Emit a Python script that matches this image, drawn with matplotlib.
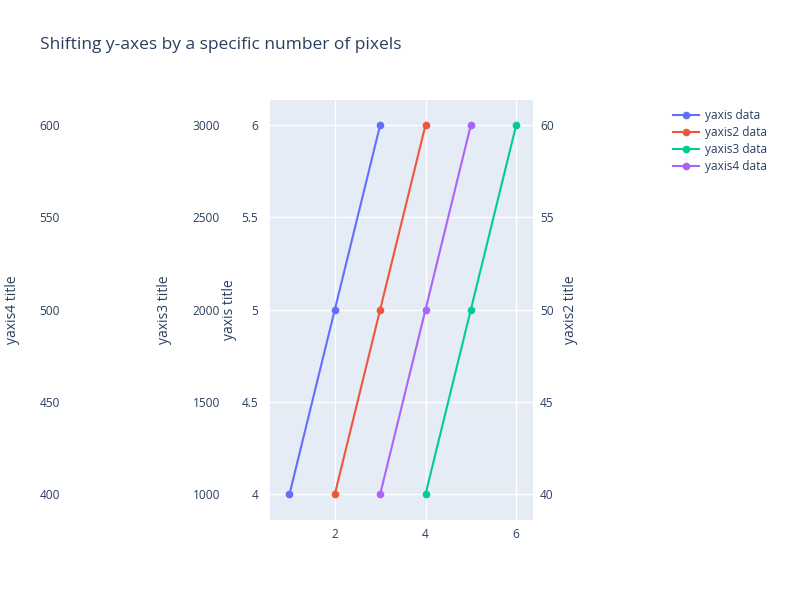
import matplotlib
matplotlib.use("Agg")
import matplotlib.pyplot as plt
from matplotlib.lines import Line2D

plt.rcParams['font.family'] = ['Open Sans', 'DejaVu Sans']

x1 = [1, 2, 3]
y1 = [4, 5, 6]
x2 = [2, 3, 4]
y2 = [40, 50, 60]
x3 = [4, 5, 6]
y3 = [1000, 2000, 3000]
x4 = [3, 4, 5]
y4 = [400, 500, 600]
names = ["yaxis data", "yaxis2 data", "yaxis3 data", "yaxis4 data"]
colors = ["#636efa", "#EF553B", "#00cc96", "#ab63fa"]

txt = "#2a3f5f"
fs = 8.6
PX = 72 / 100  # pixels -> points

fig = plt.figure(figsize=(8, 6), dpi=100)
ax = fig.add_axes([270/800, 1-520/600, 263/800, 420/600])
ax.set_facecolor("#E5ECF6")
for s in ax.spines.values():
    s.set_visible(False)
ax.grid(True, color="white", lw=1)
ax.set_axisbelow(True)
lo, hi = 3.86, 6.135
ax.set_xlim(0.57, 6.37)
ax.set_ylim(lo, hi)
ax.set_xticks([2, 4, 6])
ax.set_yticks([4, 4.5, 5, 5.5, 6])
ax.set_yticklabels(["4", "4.5", "5", "5.5", "6"])
ax.tick_params(length=0, pad=12*PX, labelsize=fs, colors=txt)
ax.tick_params(axis='x', pad=8*PX)

def lim(a, b):
    return (a + (lo-4)*b, a + (hi-4)*b)

ax2 = ax.twinx()
ax2.set_ylim(*lim(40, 10))
ax2.set_yticks([40, 45, 50, 55, 60])
ax2.tick_params(length=0, pad=7*PX, labelsize=fs, colors=txt)

ax3 = ax.twinx()
ax3.yaxis.set_ticks_position('left')
ax3.spines['left'].set_position(('outward', 38*PX))
ax3.set_ylim(*lim(1000, 1000))
ax3.set_yticks([1000, 1500, 2000, 2500, 3000])
ax3.tick_params(length=0, pad=12*PX, labelsize=fs, colors=txt)

ax4 = ax.twinx()
ax4.yaxis.set_ticks_position('left')
ax4.spines['left'].set_position(('outward', 198*PX))
ax4.set_ylim(*lim(400, 100))
ax4.set_yticks([400, 450, 500, 550, 600])
ax4.tick_params(length=0, pad=12*PX, labelsize=fs, colors=txt)

for a in (ax2, ax3, ax4):
    for s in a.spines.values():
        s.set_visible(False)
    a.set_xlim(ax.get_xlim())

kw = dict(marker='o', ms=4.5, lw=1.5, clip_on=False)
ax.plot(x1, y1, color=colors[0], **kw)
ax2.plot(x2, y2, color=colors[1], **kw)
ax3.plot(x3, y3, color=colors[2], **kw)
ax4.plot(x4, y4, color=colors[3], **kw)

for xp, label in [(230, "yaxis title"), (165, "yaxis3 title"),
                  (13, "yaxis4 title"), (570, "yaxis2 title")]:
    fig.text(xp/800, 1-310/600, label, rotation=90, ha='center', va='center',
             fontsize=10, color=txt)

fig.text(40/800, 1-45/600, "Shifting y-axes by a specific number of pixels",
         fontsize=12.5, color=txt, va='center')

handles = [Line2D([], [], color=c, marker='o', ms=4.5, lw=1.5) for c in colors]
fig.legend(handles, names, loc='upper left', bbox_to_anchor=(668/800, 1-104/600),
           frameon=False, fontsize=fs, labelcolor=txt, handlelength=2.2,
           handletextpad=0.5, labelspacing=0.35, borderaxespad=0)

fig.savefig("out.png", dpi=100)
